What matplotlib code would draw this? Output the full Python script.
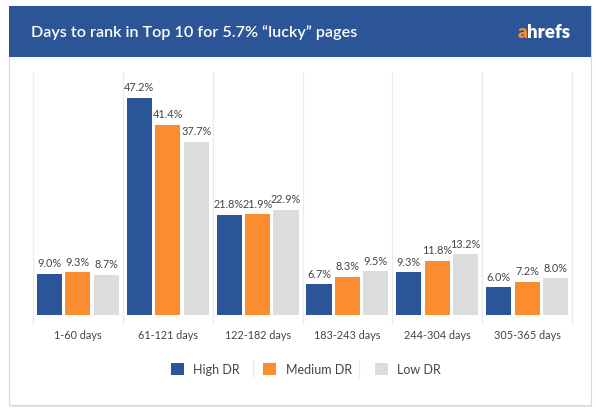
import matplotlib
matplotlib.use('Agg')
import matplotlib.pyplot as plt
from matplotlib.patches import Rectangle
import numpy as np

# data
categories = ['1-60 days', '61-121 days', '122-182 days',
              '183-243 days', '244-304 days', '305-365 days']
high_dr = [9.0, 47.2, 21.8, 6.7, 9.3, 6.0]
medium_dr = [9.3, 41.4, 21.9, 8.3, 11.8, 7.2]
low_dr = [8.7, 37.7, 22.9, 9.5, 13.2, 8.0]
series_names = ['High DR', 'Medium DR', 'Low DR']
title = 'Days to rank in Top 10 for 5.7% \u201clucky\u201d pages'

colors = ['#2a5599', '#f98d2f', '#dcdcdc']
header_blue = '#2b5597'
text_grey = '#444444'

plt.rcParams['font.family'] = ['Lato', 'DejaVu Sans']

W, H = 596, 414
fig = plt.figure(figsize=(W / 100, H / 100), dpi=100)


def fx(px):
    return px / W


def fy(py):
    return 1 - py / H


# card with border and header band
fig.patches.append(Rectangle((fx(10), fy(408)), fx(582), (400) / H,
                             transform=fig.transFigure, facecolor='#e6e6e6',
                             edgecolor='none', zorder=0))
fig.patches.append(Rectangle((fx(9), fy(406)), fx(582), (399) / H,
                             transform=fig.transFigure, facecolor='white',
                             edgecolor='#d9d9d9', linewidth=0.8, zorder=1))
fig.patches.append(Rectangle((fx(9), fy(58)), fx(582), 51 / H,
                             transform=fig.transFigure, facecolor=header_blue,
                             edgecolor='none', zorder=2))
fig.text(fx(31), fy(33), title, color='white', fontsize=11.6, fontweight='semibold',
         va='center', ha='left', zorder=3)
logo_end = 570
hrefs = fig.text(fx(logo_end), fy(33), 'hrefs', color='white', fontsize=13.5,
                 fontweight='heavy', va='center', ha='right', zorder=3)
logo_a = fig.text(fx(logo_end), fy(33), 'a', color='#f98d2f', fontsize=13.5,
                  fontweight='heavy', va='center', ha='right', zorder=3)
# shift the orange "a" left of "hrefs"
fig.canvas.draw()
r = fig.canvas.get_renderer()
hw = hrefs.get_window_extent(r).width
logo_a.set_position((fx(logo_end - hw), fy(33)))

# plot area
left, right, top, base = 33, 572, 73, 316
ax = fig.add_axes([fx(left), fy(base), fx(right - left), (base - top) / H], zorder=4)
ax.patch.set_alpha(0)

x = np.arange(len(categories))
bar_w = 0.28
step = 0.317
for i, vals in enumerate([high_dr, medium_dr, low_dr]):
    pos = x + (i - 1) * step
    ax.bar(pos, vals, width=bar_w, color=colors[i], label=series_names[i], zorder=3)
    for p, v in zip(pos, vals):
        ax.annotate(f'{v:.1f}%', (p, v), xytext=(0, 4), textcoords='offset points',
                    ha='center', va='bottom', fontsize=7.8, color=text_grey)

ax.set_xlim(-0.5, len(categories) - 0.5)
ax.set_ylim(0, (base - top) / 4.6)
for b in np.arange(-0.5, len(categories), 1.0):
    ax.axvline(b, ymin=-9 / (base - top), ymax=1, color='#ececec', linewidth=1,
               clip_on=False, zorder=1)
ax.axhline(0, color='#e6e6e6', linewidth=0.8, zorder=2)

for s in ax.spines.values():
    s.set_visible(False)
ax.set_yticks([])
ax.set_xticks(x)
ax.set_xticklabels(categories, fontsize=7.8, color=text_grey)
ax.tick_params(axis='x', length=0, pad=10)

leg = fig.legend(loc='center', bbox_to_anchor=(fx(306), fy(370)), ncol=3,
                 frameon=False, fontsize=9, handlelength=1.05, handleheight=1.05,
                 handletextpad=0.75, columnspacing=1.85, labelcolor=text_grey)
for sep_x in (253, 359):
    fig.add_artist(plt.Line2D([fx(sep_x), fx(sep_x)], [fy(378), fy(361)],
                              transform=fig.transFigure, color='#ececec', linewidth=1))

fig.savefig('out.png', dpi=100)
